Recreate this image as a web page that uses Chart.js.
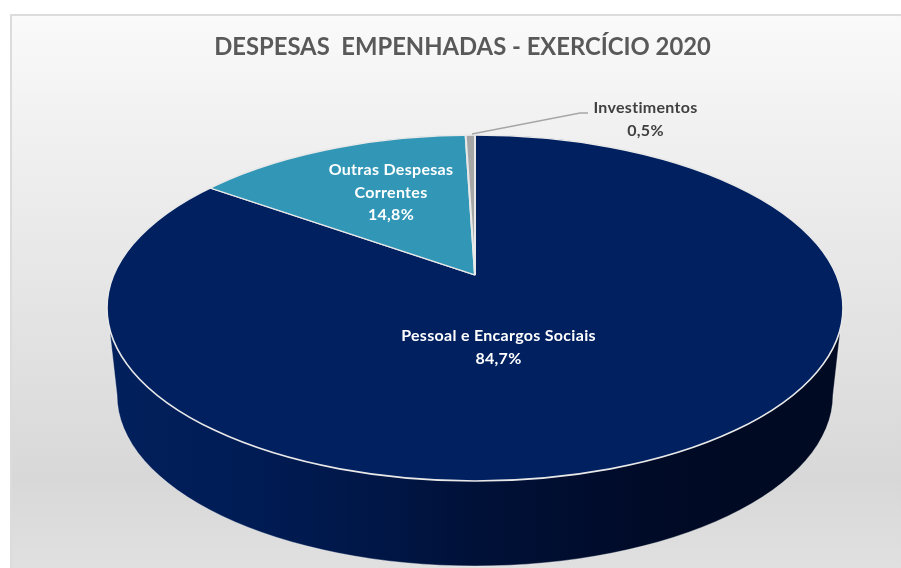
<!DOCTYPE html>
<html><head><meta charset="utf-8">
<style>html,body{margin:0;padding:0;background:#fff}canvas{display:block}</style>
<script src="https://cdn.jsdelivr.net/npm/chart.js@4"></script>
</head><body><canvas id="c" width="901" height="568"></canvas>
<script>
const titleText = 'DESPESAS  EMPENHADAS - EXERCÍCIO 2020';
const categories = ['Pessoal e Encargos Sociais', 'Outras Despesas Correntes', 'Investimentos'];
const values = [84.7, 14.8, 0.5];
const sliceColors = ['#002060', '#3297B7', '#A6A6A6'];
const labelLines = [['Pessoal e Encargos Sociais'], ['Outras Despesas', 'Correntes'], ['Investimentos']];
const labelAnchors = [[498.5, 336], [391, 170], [645.5, 108]];
const labelColors = ['#ffffff', '#ffffff', '#404040'];

const top3d = {cx: 475, cy: 308, rx: 368, ry: 173};
const bottom3d = {cx: 475, cy: 395, rx: 358, ry: 171};
const apex = {x: 475, y: 275, ry: 230, rx: 489};

const pie3d = {
  id: 'pie3d',
  beforeDraw(chart) {
    const ctx = chart.ctx;
    const g = ctx.createLinearGradient(0, 15, 0, 568);
    g.addColorStop(0, '#fafafa');
    g.addColorStop(0.2, '#f1f1f1');
    g.addColorStop(0.84, '#d8d8d8');
    g.addColorStop(1, '#e0e0e0');
    ctx.save();
    ctx.fillStyle = '#dcdcdc';
    ctx.fillRect(10, 14, 891, 554);
    ctx.fillStyle = g;
    ctx.fillRect(12, 16, 889, 552);
    ctx.restore();
  },
  beforeDatasetsDraw(chart) {
    const ctx = chart.ctx;
    const el = chart.getDatasetMeta(0).data[0];
    // side wall
    const g = ctx.createLinearGradient(110, 0, 840, 0);
    g.addColorStop(0, '#02205c');
    g.addColorStop(0.19, '#001c55');
    g.addColorStop(0.40, '#001543');
    g.addColorStop(0.5, '#001138');
    g.addColorStop(0.67, '#000c2c');
    g.addColorStop(0.81, '#000a24');
    g.addColorStop(1, '#000a22');
    ctx.save();
    ctx.beginPath();
    ctx.moveTo(110, 333);
    ctx.lineTo(bottom3d.cx - bottom3d.rx, bottom3d.cy);
    ctx.ellipse(bottom3d.cx, bottom3d.cy, bottom3d.rx, bottom3d.ry, 0, Math.PI, 0, true);
    ctx.lineTo(840, 333);
    ctx.closePath();
    ctx.fillStyle = g;
    ctx.fill();
    ctx.strokeStyle = 'rgba(255,255,255,0.5)';
    ctx.lineWidth = 0.7;
    ctx.stroke();
    ctx.restore();
    // top face: slices through an off-centre apex, trimmed to the visible ellipse
    ctx.save();
    ctx.beginPath();
    ctx.ellipse(top3d.cx, top3d.cy, top3d.rx, top3d.ry, 0, 0, Math.PI * 2);
    ctx.clip();
    ctx.translate(apex.x, apex.y);
    ctx.scale(apex.rx / el.outerRadius, apex.ry / el.outerRadius);
    ctx.translate(-el.x, -el.y);
  },
  afterDatasetsDraw(chart) {
    const ctx = chart.ctx;
    ctx.restore();
    ctx.save();
    ctx.beginPath();
    ctx.ellipse(top3d.cx, top3d.cy, top3d.rx, top3d.ry, 0, 0, Math.PI * 2);
    ctx.strokeStyle = '#e8e8e8';
    ctx.lineWidth = 1.6;
    ctx.stroke();
    // leader line
    ctx.beginPath();
    ctx.moveTo(472, 134);
    ctx.lineTo(580, 113);
    ctx.lineTo(588, 113);
    ctx.strokeStyle = '#a6a6a6';
    ctx.lineWidth = 1.3;
    ctx.stroke();
    // data labels
    ctx.font = 'bold 16px Lato';
    ctx.letterSpacing = '0.3px';
    ctx.textAlign = 'center';
    ctx.textBaseline = 'middle';
    categories.forEach((_, i) => {
      const lines = labelLines[i].concat(values[i].toFixed(1).replace('.', ',') + '%');
      ctx.fillStyle = labelColors[i];
      lines.forEach((t, k) => ctx.fillText(t, labelAnchors[i][0], labelAnchors[i][1] + k * 22.5));
    });
    ctx.restore();
  }
};

new Chart(document.getElementById('c'), {
  type: 'pie',
  data: {
    labels: categories,
    datasets: [{
      data: values,
      backgroundColor: sliceColors,
      borderColor: '#e8e8e8',
      borderWidth: 1,
      clip: false
    }]
  },
  options: {
    responsive: false,
    animation: false,
    layout: {padding: {left: 24, top: 33, bottom: 10}},
    plugins: {
      legend: {display: false},
      tooltip: {enabled: false},
      title: {
        display: true,
        text: titleText,
        color: '#595959',
        font: {family: 'Lato', size: 23.8, weight: 'bold'},
        padding: {top: 0, bottom: 10}
      }
    }
  },
  plugins: [pie3d]
});
</script></body></html>
